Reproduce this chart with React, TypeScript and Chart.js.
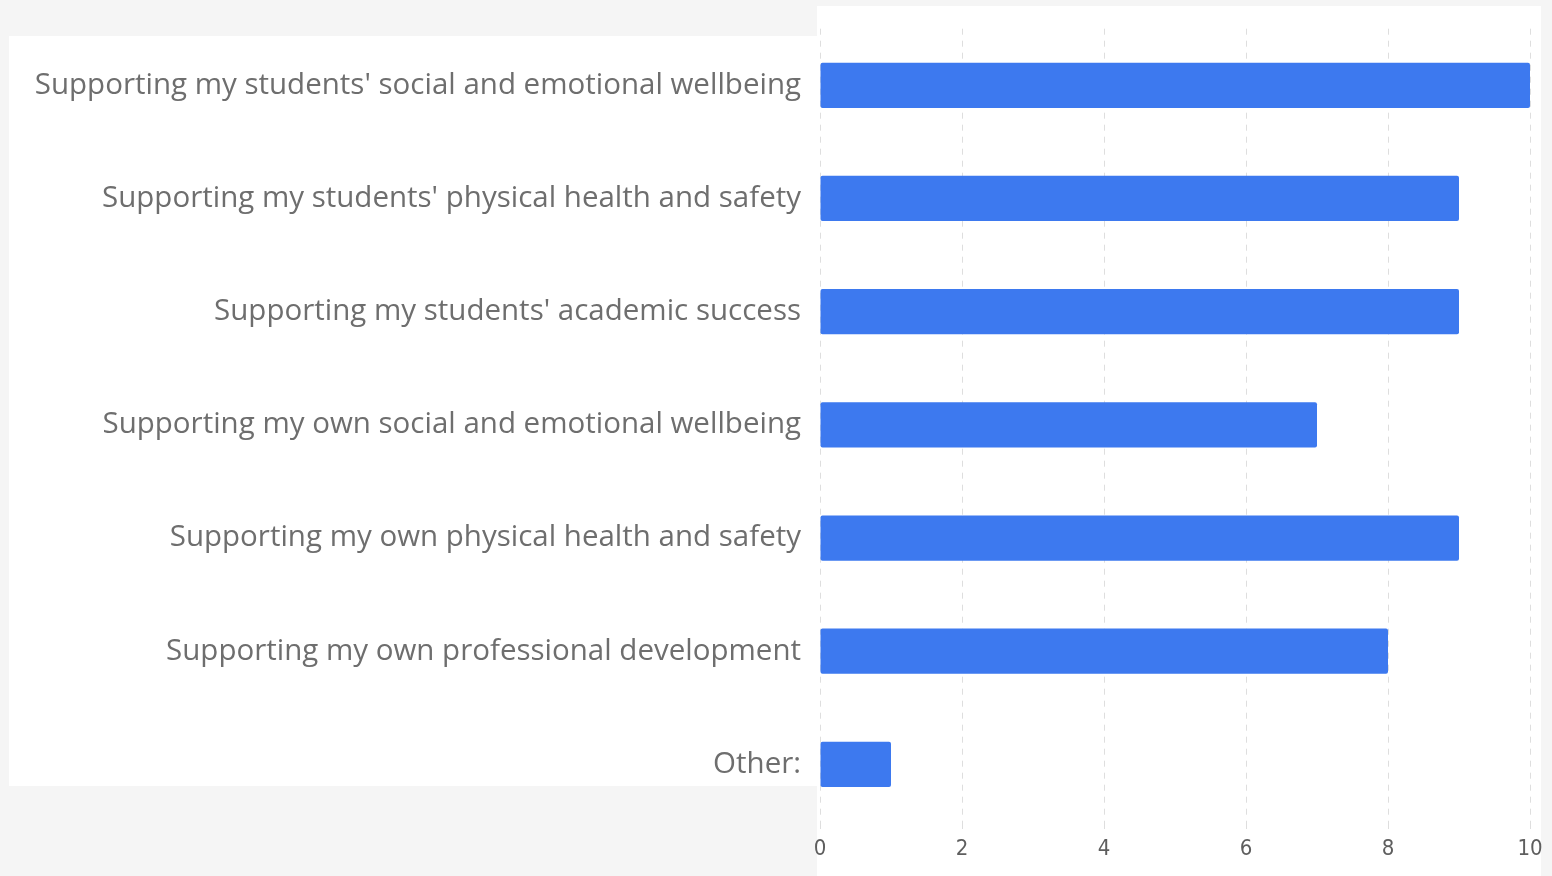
import React, { useEffect, useRef } from "react";
import { Chart, registerables } from "chart.js";

Chart.register(...registerables);

const categories: string[] = [
  "Supporting my students' social and emotional wellbeing",
  "Supporting my students' physical health and safety",
  "Supporting my students' academic success",
  "Supporting my own social and emotional wellbeing",
  "Supporting my own physical health and safety",
  "Supporting my own professional development",
  "Other:",
];

const counts: number[] = [10, 9, 9, 7, 9, 8, 1];

const xMin = 0;
const xMax = 10;
const xStep = 2;

export default function App() {
  const canvasRef = useRef<HTMLCanvasElement | null>(null);

  useEffect(() => {
    document.body.style.margin = "0";
    document.body.style.background = "#f5f5f5";
    const canvas = canvasRef.current;
    if (!canvas) return;
    const chart = new Chart(canvas, {
      type: "bar",
      data: {
        labels: categories,
        datasets: [
          {
            data: counts,
            backgroundColor: "#3d79ef",
            borderRadius: 2,
            borderSkipped: false,
            categoryPercentage: 1,
            barPercentage: 0.4,
          },
        ],
      },
      options: {
        indexAxis: "y",
        animation: false,
        responsive: false,
        maintainAspectRatio: false,
        layout: { padding: { top: 25, right: 22, bottom: 0, left: 0 } },
        plugins: {
          legend: { display: false },
          tooltip: { enabled: false },
        },
        scales: {
          x: {
            min: xMin,
            max: xMax,
            ticks: {
              stepSize: xStep,
              color: "#5e5e5e",
              padding: 7,
              font: { family: "'Liberation Sans Narrow', 'DejaVu Sans Condensed', sans-serif", size: 22 },
            },
            grid: {
              color: "#dedede",
              lineWidth: 1,
              tickLength: 8,
              drawTicks: true,
            },
            border: { display: false, dash: [6, 6] },
            afterFit: (scale: any) => {
              scale.height = 55;
            },
          },
          y: {
            ticks: {
              color: "#6e6e6e",
              padding: 11,
              font: { family: "'Open Sans', sans-serif", size: 29.5 },
            },
            grid: { display: false },
            border: { display: false },
            afterFit: (scale: any) => {
              scale.width = 820;
            },
          },
        },
      },
    });
    (chart.options.scales as any).x.grid.borderDash = [6, 6];
    (chart.options.scales as any).x.border.dash = [6, 6];
    chart.update();
    return () => chart.destroy();
  }, []);

  return (
    <div style={{ position: "relative", width: 1552, height: 876, background: "#f5f5f5", overflow: "hidden" }}>
      <div style={{ position: "absolute", left: 9, top: 36, width: 808, height: 750, background: "#ffffff" }} />
      <div style={{ position: "absolute", left: 817, top: 6, width: 724, height: 870, background: "#ffffff" }} />
      <canvas ref={canvasRef} width={1552} height={876} style={{ position: "absolute", left: 0, top: 0 }} />
    </div>
  );
}
